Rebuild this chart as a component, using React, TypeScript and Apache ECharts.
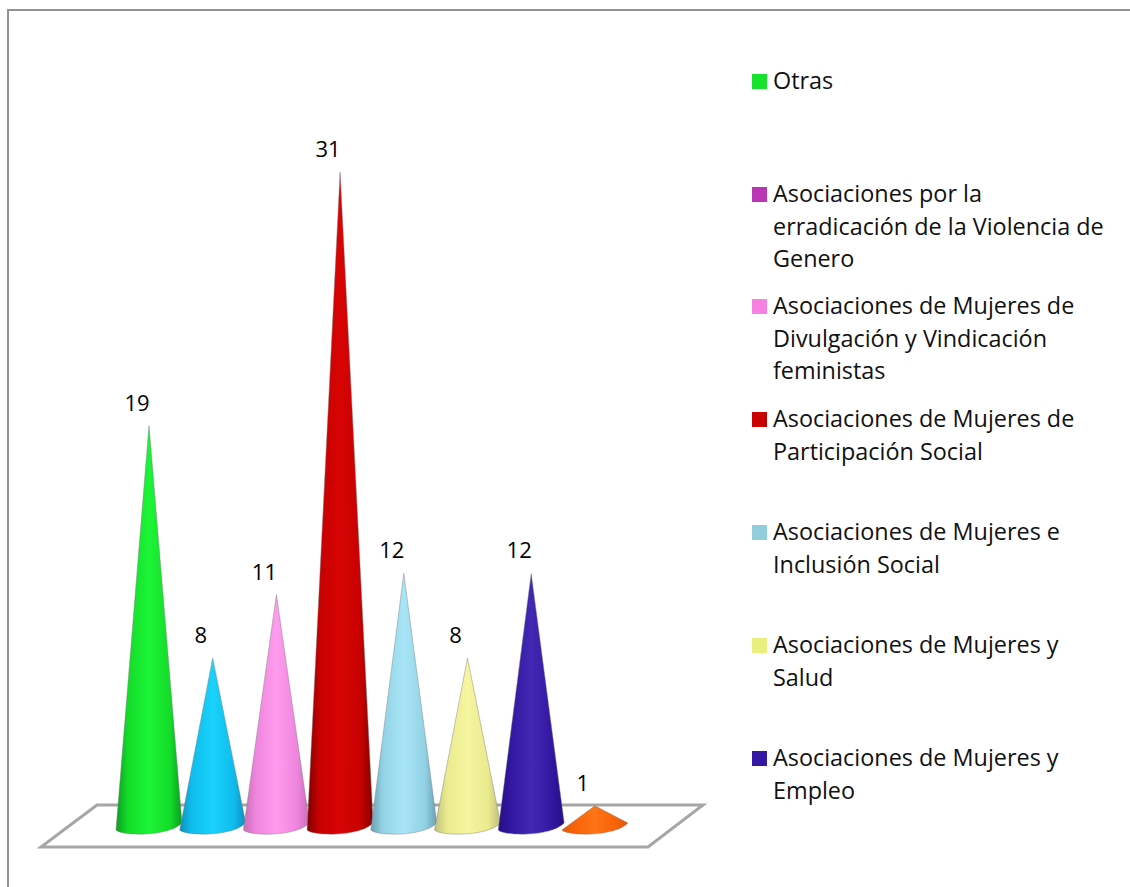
import React, { useEffect, useRef } from "react";
import * as echarts from "echarts";

const categories = [
  "Otras",
  "Asociaciones por la erradicación de la Violencia de Genero",
  "Asociaciones de Mujeres de Divulgación y Vindicación feministas",
  "Asociaciones de Mujeres de Participación Social",
  "Asociaciones de Mujeres e Inclusión Social",
  "Asociaciones de Mujeres y Salud",
  "Asociaciones de Mujeres y Empleo",
  "Sin clasificar",
];
const values = [19, 8, 11, 31, 12, 8, 12, 1];
const coneEdge = ["#0c9c20", "#0d8fbe", "#c86cb6", "#800000", "#6a9fb2", "#bebe7a", "#260e86", "#e25600"];
const coneMid = ["#14dc2a", "#0fbcec", "#ee84dc", "#c60000", "#92d2e4", "#e9e98e", "#3116a0", "#f86208"];
const coneLight = ["#1cf436", "#1ad2fb", "#ff9cee", "#d80404", "#a8e6f7", "#f6f6a0", "#4229b4", "#ff7414"];

const legendLines = [
  ["Otras"],
  ["Asociaciones por la", "erradicación de la Violencia de", "Genero"],
  ["Asociaciones de Mujeres de", "Divulgación y Vindicación", "feministas"],
  ["Asociaciones de Mujeres de", "Participación Social"],
  ["Asociaciones de Mujeres e", "Inclusión Social"],
  ["Asociaciones de Mujeres y", "Salud"],
  ["Asociaciones de Mujeres y", "Empleo"],
];
const legendColors = ["#17e32c", "#bb36b4", "#f681e0", "#c80000", "#92cddc", "#e9ef7d", "#3418a4"];
const legendCenters = [81, 194, 306, 419, 532, 645, 758];

const FONT = "'Open Sans', Lato, sans-serif";

export default function App() {
  const ref = useRef<HTMLDivElement>(null);
  useEffect(() => {
    const chart = echarts.init(ref.current!, null, { renderer: "svg" });
    const renderCone = (params: any, api: any) => {
      const i = params.dataIndex;
      const v = api.value(1);
      const [cx, tipY] = api.coord([api.value(0), v]);
      const [, baseY] = api.coord([api.value(0), 0]);
      const half = api.size([1, 0])[0] * 0.518;
      const lx = cx - half;
      const rx = cx + half;
      const ly = baseY + 3;
      const ry = baseY - 4;
      const d =
        `M${lx} ${ly}C${cx - half * 0.85} ${baseY + 9} ${cx + half * 0.6} ${baseY + 10} ${rx} ${ry}` +
        `L${cx} ${tipY}Z`;
      const gradient = new echarts.graphic.LinearGradient(0, 0, 1, 0, [
        { offset: 0, color: coneEdge[i] },
        { offset: 0.18, color: coneMid[i] },
        { offset: 0.5, color: coneLight[i] },
        { offset: 0.82, color: coneMid[i] },
        { offset: 1, color: coneEdge[i] },
      ]);
      return {
        type: "group",
        children: [
          {
            type: "path",
            shape: { pathData: d },
            style: { fill: gradient, stroke: "rgba(125,125,125,0.55)", lineWidth: 0.8, lineJoin: "round" },
          },
          {
            type: "text",
            x: cx - 12,
            y: tipY - 24,
            style: {
              text: String(v),
              fill: "#000",
              font: `22px ${FONT}`,
              textAlign: "center",
              textVerticalAlign: "middle",
            },
          },
        ],
      };
    };

    const legendGraphics: any[] = [];
    legendLines.forEach((lines, i) => {
      legendGraphics.push({
        type: "rect",
        shape: { x: 752, y: legendCenters[i] - 7, width: 15, height: 15 },
        style: { fill: legendColors[i] },
      });
      lines.forEach((line, j) => {
        legendGraphics.push({
          type: "text",
          x: 773,
          y: legendCenters[i] - 1 + j * 32.6,
          style: {
            text: line,
            fill: "#111",
            font: `23.4px ${FONT}`,
            textAlign: "left",
            textVerticalAlign: "middle",
          },
        });
      });
    });

    chart.setOption({
      animation: false,
      backgroundColor: "#ffffff",
      grid: { left: 117.15, width: 509.6, top: 87.45, height: 739.55 },
      xAxis: { type: "category", data: categories, show: false },
      yAxis: { type: "value", min: 0, max: 35, show: false },
      graphic: [
        {
          type: "polyline",
          silent: true,
          shape: { points: [[8, 887], [8, 10], [1130, 10]] },
          style: { stroke: "#939393", lineWidth: 2, fill: "none" },
        },
        {
          type: "polygon",
          silent: true,
          shape: { points: [[97, 805], [703, 805], [648, 847], [41, 847]] },
          style: { stroke: "#a6a6a6", lineWidth: 3, fill: "#ffffff", lineJoin: "miter" },
        },
        ...legendGraphics,
      ],
      series: [
        {
          type: "custom",
          clip: false,
          silent: true,
          z: 10,
          encode: { x: 0, y: 1 },
          data: values.map((v, i) => [i, v]),
          renderItem: renderCone,
        },
      ],
    });
    return () => chart.dispose();
  }, []);
  return (
    <div
      ref={ref}
      style={{ position: "absolute", left: 0, top: 0, width: 1130, height: 887 }}
    />
  );
}
